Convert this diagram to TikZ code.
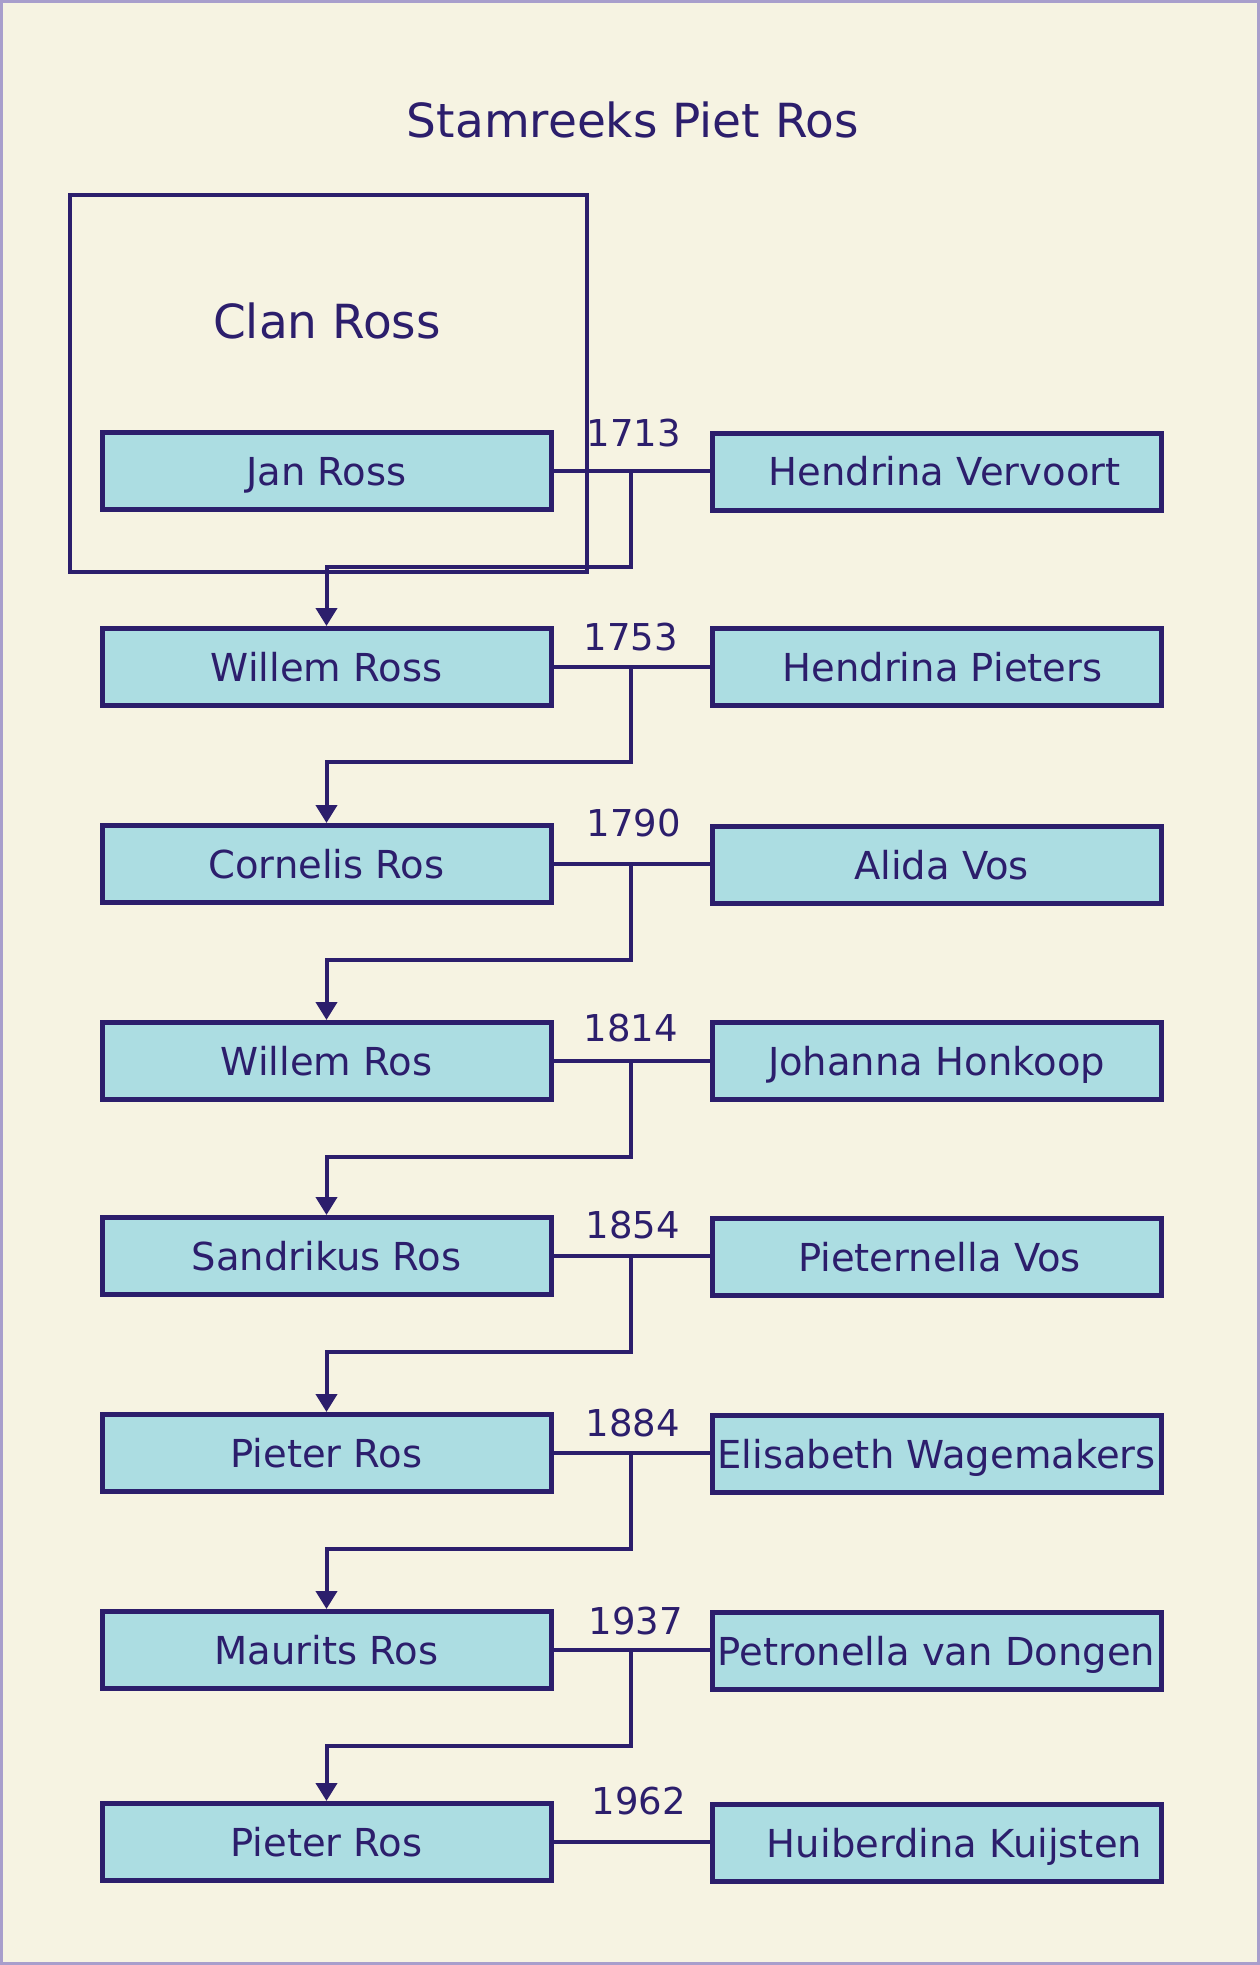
\documentclass[tikz,border=0pt]{standalone}
\usepackage{fontspec}
\setmainfont{DejaVu Sans}
\usetikzlibrary{arrows.meta}
\definecolor{navy}{RGB}{44,30,108}
\definecolor{bgcol}{RGB}{246,243,226}
\definecolor{boxcol}{RGB}{172,221,226}
\definecolor{framecol}{RGB}{168,158,204}
\tikzset{
  person/.style={draw=navy, line width=5pt, fill=boxcol, minimum width=449pt, minimum height=77pt,
    inner sep=0pt, text=navy, font=\fontsize{38.5}{42}\selectfont, text height=28pt, text depth=0pt},
  year/.style={text=navy, font=\fontsize{37}{40}\selectfont, inner sep=0pt},
  conn/.style={draw=navy, line width=4pt},
  desc/.style={conn, -{Triangle[length=18pt,width=21pt]}},
}
\begin{document}
\begin{tikzpicture}[x=1pt,y=-1pt]
\useasboundingbox (0,0) rectangle (1260,1965);
\fill[bgcol] (0,0) rectangle (1260,1965);
\draw[framecol, line width=3pt] (1.5,1.5) rectangle (1258.5,1963.5);

\node[text=navy, font=\fontsize{47}{52}\selectfont, inner sep=0pt] (title) at (633,120) {Stamreeks Piet Ros};

\node[draw=navy, line width=4pt, minimum width=517pt, minimum height=377pt, inner sep=0pt] (clan) at (328.5,383.5) {};
\node[text=navy, font=\fontsize{47}{52}\selectfont, inner sep=0pt, text height=34pt, text depth=0pt] (clanlbl) at (327,321) {Clan Ross};

% left column
\node[person] (jan)   at (326.5,471) {Jan Ross};
\node[person] (wross) at (326.5,667) {Willem Ross};
\node[person] (cor)   at (326.5,864) {Cornelis Ros};
\node[person] (wros)  at (326.5,1061) {Willem Ros};
\node[person] (san)   at (326.5,1256) {Sandrikus Ros};
\node[person] (pie1)  at (326.5,1453) {Pieter Ros};
\node[person] (mau)   at (326.5,1650) {Maurits Ros};
\node[person] (pie2)  at (326.5,1842) {Pieter Ros};

% right column
\node[person] (hv)  at (936.5,471.5) {\hspace*{16pt}Hendrina Vervoort};
\node[person] (hp)  at (936.5,667) {\hspace*{12pt}Hendrina Pieters};
\node[person] (av)  at (936.5,865) {\hspace*{10pt}Alida Vos};
\node[person] (jh)  at (936.5,1061) {Johanna Honkoop};
\node[person] (pv)  at (936.5,1257) {\hspace*{6pt}Pieternella Vos};
\node[person] (ew)  at (936.5,1454) {Elisabeth Wagemakers};
\node[person] (pvd) at (936.5,1651) {Petronella van Dongen};
\node[person] (hk)  at (936.5,1843) {\hspace*{36pt}Huiberdina Kuijsten};

% years
\node[year] (y1) at (634,433) {1713};
\node[year] (y2) at (631,637) {1753};
\node[year] (y3) at (634,823) {1790};
\node[year] (y4) at (631,1028) {1814};
\node[year] (y5) at (633,1225) {1854};
\node[year] (y6) at (633,1423) {1884};
\node[year] (y7) at (636,1621) {1937};
\node[year] (y8) at (639,1801) {1962};

% marriage points
\coordinate (m1) at (631,471);
\coordinate (m2) at (631,667);
\coordinate (m3) at (631,864);
\coordinate (m4) at (631,1061);
\coordinate (m5) at (631,1256);
\coordinate (m6) at (631,1453);
\coordinate (m7) at (631,1650);

% marriage lines
\draw[conn] (jan.east) -- (jan.east -| hv.west);
\draw[conn] (wross.east) -- (wross.east -| hp.west);
\draw[conn] (cor.east) -- (cor.east -| av.west);
\draw[conn] (wros.east) -- (wros.east -| jh.west);
\draw[conn] (san.east) -- (san.east -| pv.west);
\draw[conn] (pie1.east) -- (pie1.east -| ew.west);
\draw[conn] (mau.east) -- (mau.east -| pvd.west);
\draw[conn] (pie2.east) -- (pie2.east -| hk.west);

% descent
\draw[desc] (m1) -- ++(0,96) -| (wross.north);
\draw[desc] (m2) -- ++(0,95) -| (cor.north);
\draw[desc] (m3) -- ++(0,96) -| (wros.north);
\draw[desc] (m4) -- ++(0,96) -| (san.north);
\draw[desc] (m5) -- ++(0,96) -| (pie1.north);
\draw[desc] (m6) -- ++(0,96) -| (mau.north);
\draw[desc] (m7) -- ++(0,96) -| (pie2.north);
\end{tikzpicture}
\end{document}
